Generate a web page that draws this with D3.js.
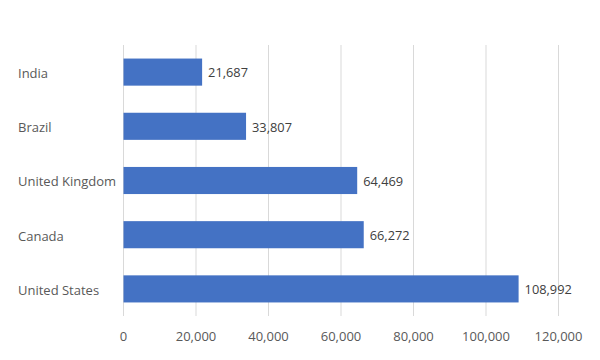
<!DOCTYPE html>
<html><head><meta charset="utf-8">
<script src="https://cdn.jsdelivr.net/npm/d3@7"></script>
<style>body{margin:0;background:#fff}svg text{font-family:"Open Sans","Noto Sans",sans-serif}</style>
</head><body><svg id="c" width="600" height="360"></svg>
<script>
const categories = ["India","Brazil","United Kingdom","Canada","United States"];
const values = [21687,33807,64469,66272,108992];
const ticks = [0,20000,40000,60000,80000,100000,120000];

const svg = d3.select("#c");
const x = d3.scaleLinear().domain([0,120000]).range([123.5,558.5]);
const y = d3.scaleBand().domain(categories).range([45,316]).paddingInner(0.5).paddingOuter(0.25);
const fmt = d3.format(",");

svg.append("g").selectAll("line").data(ticks).join("line")
  .attr("x1",d=>x(d)).attr("x2",d=>x(d)).attr("y1",45).attr("y2",316)
  .attr("stroke","#d9d9d9").attr("stroke-width",1);

svg.append("g").selectAll("rect").data(values).join("rect")
  .attr("x",x(0)).attr("y",(d,i)=>y(categories[i]))
  .attr("width",d=>x(d)-x(0)).attr("height",y.bandwidth())
  .attr("fill","#4472c4");

svg.append("g").selectAll("text").data(values).join("text")
  .attr("x",d=>x(d)+6).attr("y",(d,i)=>y(categories[i])+y.bandwidth()/2)
  .attr("dy","0.42em").attr("font-size",12.8).attr("fill","#404040")
  .text(d=>fmt(d));

svg.append("g").selectAll("text").data(categories).join("text")
  .attr("x",18).attr("y",d=>y(d)+y.bandwidth()/2)
  .attr("dy","0.45em").attr("font-size",13).attr("fill","#595959")
  .text(d=>d);

svg.append("g").selectAll("text").data(ticks).join("text")
  .attr("x",d=>x(d)).attr("y",336).attr("dy","0.4em")
  .attr("text-anchor","middle").attr("font-size",13).attr("fill","#595959")
  .text(d=>fmt(d));
</script></body></html>
